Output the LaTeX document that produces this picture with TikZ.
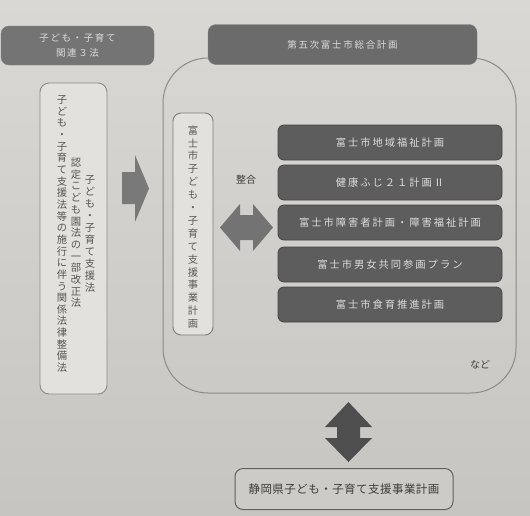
\documentclass[tikz,border=0pt]{standalone}
\usepackage{fontspec}
\setmainfont{Noto Sans CJK JP}
\ExplSyntaxOn
\NewDocumentCommand\tate{O{12.5pt}m}{\vbox{\baselineskip=#1\lineskiplimit=-\maxdimen\lineskip=0pt \tl_map_inline:nn{#2}{\hbox to 1em{\hss##1\hss}}}}
\ExplSyntaxOff
\definecolor{bgtop}{HTML}{DAD8D4}
\definecolor{bgbot}{HTML}{C7C5C1}
\definecolor{darkfill}{HTML}{5D5D5D}
\definecolor{darkline}{HTML}{454545}
\definecolor{midfill}{HTML}{747474}
\definecolor{lighttext}{HTML}{DCDCDC}
\definecolor{palefill}{HTML}{E2E1DD}
\definecolor{paleline}{HTML}{8A8A8A}
\definecolor{inktext}{HTML}{3C3C3C}
\definecolor{graytext}{HTML}{555555}
\begin{document}
\begin{tikzpicture}[x=1pt,y=-1pt,
  titlebox/.style={draw=darkline!70, fill=midfill, rounded corners=8pt, text=lighttext, align=center,
    font=\fontsize{9.5}{15}\selectfont\addfontfeature{LetterSpace=17}},
  planbox/.style={draw=darkline, line width=0.8pt, fill=darkfill, rounded corners=6pt, text=lighttext,
    minimum width=224pt, minimum height=35pt, inner sep=0pt,
    font=\fontsize{10.3}{12}\selectfont\addfontfeature{LetterSpace=19}},
  palebox/.style={draw=paleline, line width=0.9pt, fill=palefill, rounded corners=9pt, inner sep=0pt},
  vtext/.style={text=graytext, inner sep=0pt, font=\fontsize{10.3}{12}\selectfont},
  plainlabel/.style={text=inktext, inner sep=0pt, font=\fontsize{10}{12}\selectfont},
  blockarrow/.style={fill=#1, draw=none}
]
\shade[top color=bgtop, bottom color=bgbot] (0,0) rectangle (530,515);
\useasboundingbox (0,0) rectangle (530,515);

% big frame of the general plan
\draw[draw=paleline, line width=1pt, rounded corners=45pt] (163,58) rectangle (516,393);

% top-left heading
\node[titlebox, minimum width=153pt, minimum height=39pt, inner sep=0pt] (law3) at (77.5,45.5) {子ども・子育て\\関連３法};

% general plan heading
\node[titlebox, fill=midfill!92!black, minimum width=269pt, minimum height=40pt, inner sep=0pt,
  font=\fontsize{9.5}{12}\selectfont\addfontfeature{LetterSpace=18}] (general) at (342.5,44.5) {第五次富士市総合計画};

% left laws box
\node[palebox, minimum width=67pt, minimum height=311pt] (laws) at (73.5,238.5) {};
\node[vtext] (lawA) at (90,234) {\tate[12pt]{子ども・子育て支援法}};
\node[vtext] (lawB) at (76,233) {\tate[11.7pt]{認定こども園法の一部改正法}};
\node[vtext] (lawC) at (62,234) {\tate[11.65pt]{子ども・子育て支援法等の施行に伴う関係法律整備法}};

% right arrow
\fill[blockarrow=gray!95!black] (122,172) -- (135,172) -- (135,155) -- (149,188.5) -- (135,222) -- (135,204) -- (122,204) -- cycle;

% city child plan (vertical)
\node[palebox, rounded corners=8pt, draw=paleline!90!black, minimum width=40pt, minimum height=222pt] (cityplan) at (193,224) {};
\node[vtext, text=inktext!85] (citytext) at (193,227) {\tate[12.9pt]{富士市子ども・子育て支援事業計画}};

% harmonisation arrow
\node[plainlabel] (seigo) at (246,180) {整合};
\fill[blockarrow=gray!90!black] (220,227.5) -- (240,204) -- (240,215) -- (253,215) -- (253,204) -- (273,227.5) -- (253,251) -- (253,240) -- (240,240) -- (240,251) -- cycle;

% five related plans
\node[planbox] (p1) at (390,142.5) {富士市地域福祉計画};
\node[planbox] (p2) at (390,182.5) {健康ふじ２１計画Ⅱ};
\node[planbox] (p3) at (390,222.5) {富士市障害者計画・障害福祉計画};
\node[planbox] (p4) at (390,264.5) {富士市男女共同参画プラン};
\node[planbox] (p5) at (390,304.5) {富士市食育推進計画};

\node[plainlabel] (nado) at (480,365) {など};

% vertical double arrow
\fill[blockarrow=darkline!95] (348.5,402) -- (372,427) -- (360,427) -- (360,438) -- (372,438) -- (348.5,462) -- (325,438) -- (337,438) -- (337,427) -- (325,427) -- cycle;

% prefecture plan
\node[draw=darkline!85, line width=1pt, fill=bgbot!90!white, rounded corners=8pt, minimum width=218pt, minimum height=41pt,
  inner sep=0pt, text=inktext, font=\fontsize{11.5}{13}\selectfont\addfontfeature{LetterSpace=4}] (pref) at (344,489) {静岡県子ども・子育て支援事業計画};
\end{tikzpicture}
\end{document}
